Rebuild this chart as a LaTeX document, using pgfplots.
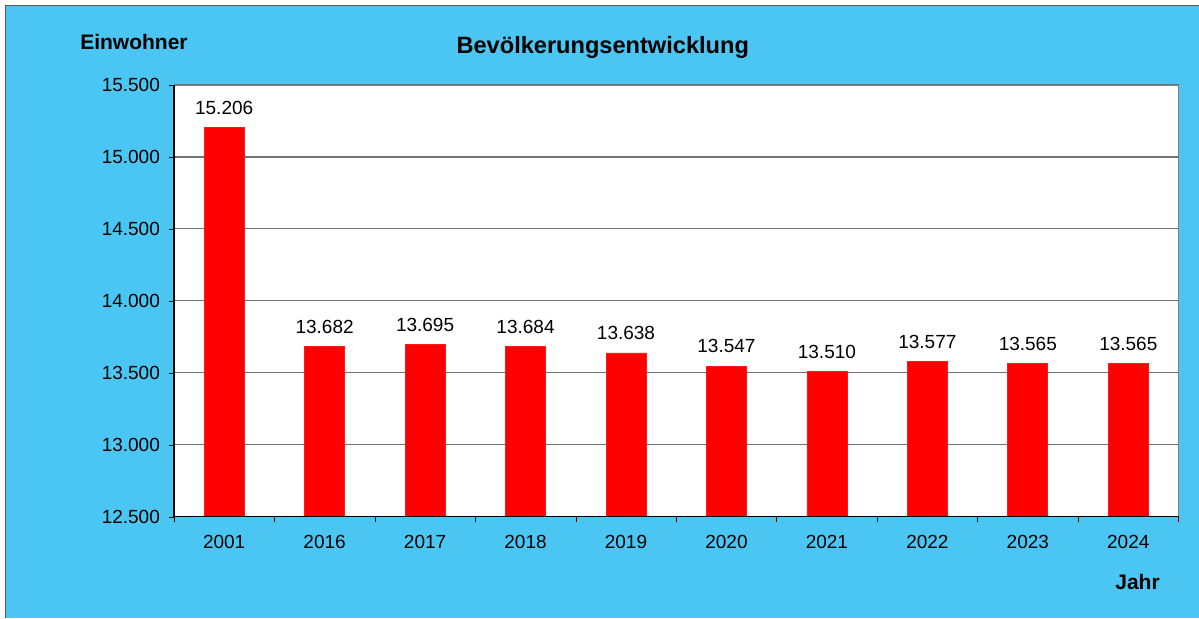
\documentclass[border=0pt]{standalone}
\usepackage{fontspec}
\setmainfont{Liberation Sans}
\usepackage{pgfplots}
\pgfplotsset{compat=1.18}
\definecolor{bgblue}{RGB}{75,198,242}
\definecolor{barred}{RGB}{255,0,0}
\begin{document}
\begin{tikzpicture}[x=0.5pt,y=0.5pt]
% background: picture spans (-174,-101) to (1025,517) in px relative to plot origin
\fill[white] (-174,-101) rectangle (1025,517);
\fill[bgblue] (-168,-101) rectangle (1025,511);
\draw[gray!70!black,line width=0.5pt] (-168,-101) -- (-168,511) -- (1025,511);
\begin{axis}[
  at={(0,0)}, anchor=south west,
  scale only axis,
  width=502.5pt, height=216pt,
  xmin=-0.5, xmax=9.5,
  ymin=12500, ymax=15500,
  ytick={12500,13000,...,15500},
  scaled y ticks=false,
  xtick={0,...,9},
  xticklabels={2001,2016,2017,2018,2019,2020,2021,2022,2023,2024},
  minor xtick={-0.5,0.5,...,9.5},
  major x tick style={draw=none},
  minor x tick style={black},
  tick align=outside,
  xtick pos=bottom, ytick pos=left,
  minor tick length=2.5pt,
  major tick length=2.5pt,
  y tick style={black},
  ymajorgrids,
  grid style={black!55, line width=0.6pt},
  axis line style={black!50},
  axis background/.style={fill=white},
  tick label style={font=\fontsize{9.5}{11}\selectfont},
  /pgf/number format/assume math mode=true,
  /pgf/number format/fixed,
  /pgf/number format/precision=0,
  /pgf/number format/1000 sep={.},
  /pgf/number format/min exponent for 1000 sep=3,
  xticklabel style={yshift=-3pt},
  yticklabel style={xshift=-1pt},
  ybar, bar width=20pt,
  nodes near coords,
  nodes near coords style={font=\fontsize{9.5}{11}\selectfont, yshift=3pt},
  clip=false,
]
\addplot[fill=barred, draw=barred!90!white] coordinates {
(0,15206) (1,13682) (2,13695) (3,13684) (4,13638)
(5,13547) (6,13510) (7,13577) (8,13565) (9,13565)};
\draw[black, line width=0.6pt] (rel axis cs:0,1) -- (rel axis cs:0,0) -- (rel axis cs:1,0);
\end{axis}
\node[font=\fontsize{10.5}{12}\selectfont\bfseries] at (-40,475) {Einwohner};
\node[font=\fontsize{11.8}{13}\selectfont\bfseries] at (429,470) {Bevölkerungsentwicklung};
\node[font=\fontsize{10.5}{12}\selectfont\bfseries] at (964,-65) {Jahr};
\end{tikzpicture}
\end{document}
